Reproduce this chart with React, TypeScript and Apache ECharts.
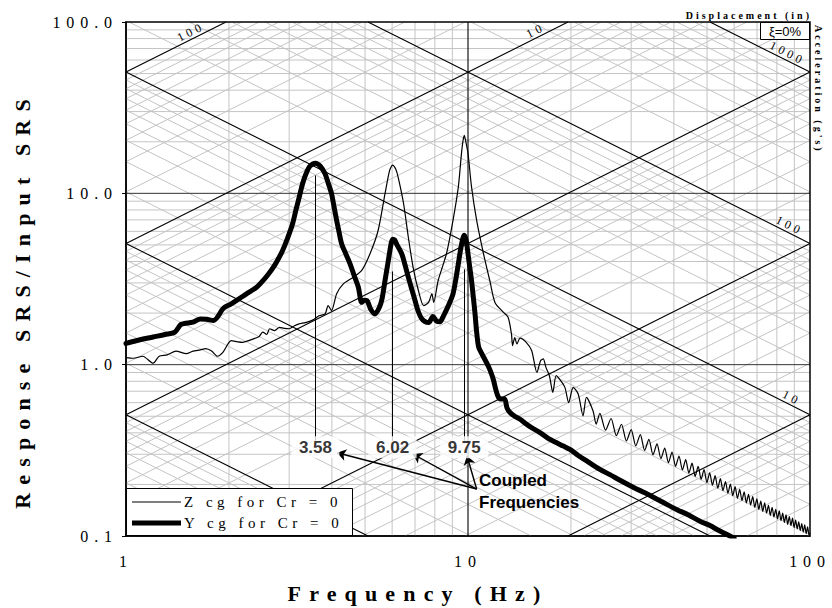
import React, { useEffect, useRef } from "react";
import * as echarts from "echarts";

// Response SRS / input SRS, Z direction at the c.g. (thin trace): [Hz, ratio]
const zCgCurve: [number, number][] = [
  [1.0, 1.10], [1.05, 1.09], [1.12, 1.12], [1.2, 1.02], [1.25, 1.12], [1.32, 1.14],
  [1.4, 1.20], [1.5, 1.16], [1.57, 1.20], [1.65, 1.22], [1.71, 1.24], [1.78, 1.20],
  [1.85, 1.12], [1.92, 1.18], [2.03, 1.38], [2.12, 1.36], [2.19, 1.35], [2.35, 1.41],
  [2.45, 1.46], [2.51, 1.55], [2.58, 1.50], [2.63, 1.62], [2.72, 1.58], [2.81, 1.65],
  [2.9, 1.63], [3.0, 1.62], [3.1, 1.68], [3.21, 1.73], [3.35, 1.76], [3.51, 1.82],
  [3.67, 1.93], [3.82, 1.98], [3.9, 2.21], [3.99, 2.07], [4.13, 2.59], [4.32, 2.96],
  [4.62, 3.24], [4.89, 3.55], [5.17, 4.44], [5.46, 6.07], [5.72, 9.96], [5.9, 13.6],
  [6.02, 14.6], [6.15, 13.8], [6.25, 12.4], [6.48, 8.72], [6.69, 5.56], [6.91, 3.70],
  [7.16, 2.71], [7.42, 2.21], [7.67, 2.31], [7.84, 2.59], [7.94, 2.31], [8.18, 3.10],
  [8.65, 4.44], [9.04, 6.95], [9.37, 10.9], [9.57, 17.1], [9.66, 20.0], [9.75, 21.8],
  [9.84, 20.3], [10.0, 17.1], [10.24, 10.9], [10.6, 6.95], [11.1, 4.44], [11.6, 3.05],
  [12.0, 2.30], [12.7, 2.02], [13.1, 1.89], [13.4, 1.51], [13.5, 1.29], [13.7, 1.44],
  [13.9, 1.32], [14.2, 1.43], [14.8, 1.35], [15.35, 1.21], [15.9, 0.90], [16.3, 1.055],
  [16.6, 1.08], [16.9, 0.964], [17.3, 0.862], [17.7, 0.689], [18.1, 0.862], [18.5, 0.825],
  [19.2, 0.737], [19.7, 0.60], [20.3, 0.737], [21.0, 0.674], [21.7, 0.503], [22.2, 0.644],
  [23.2, 0.538], [23.7, 0.45], [24.3, 0.52],
  [25.25, 0.415], [26.2, 0.485], [27.15, 0.385], [28.1, 0.449], [29.05, 0.359], [30.0, 0.418],
  [30.95, 0.336], [31.9, 0.391], [32.85, 0.316], [33.8, 0.367], [34.75, 0.298], [35.7, 0.345],
  [36.65, 0.283], [37.6, 0.326], [38.55, 0.268], [39.5, 0.309], [40.45, 0.255], [41.4, 0.293],
  [42.35, 0.243], [43.3, 0.279], [44.25, 0.233], [45.2, 0.266], [46.15, 0.223], [47.1, 0.255],
  [48.05, 0.214], [49.0, 0.244], [49.95, 0.205], [50.9, 0.234], [51.85, 0.198], [52.8, 0.225],
  [53.75, 0.190], [54.7, 0.216], [55.65, 0.184], [56.6, 0.208], [57.55, 0.178], [58.5, 0.201],
  [59.45, 0.172], [60.4, 0.194], [61.35, 0.166], [62.3, 0.187], [63.25, 0.161], [64.2, 0.181],
  [65.15, 0.156], [66.1, 0.175], [67.05, 0.152], [68.0, 0.170], [68.95, 0.147], [69.9, 0.165],
  [70.85, 0.143], [71.8, 0.160], [72.75, 0.139], [73.7, 0.156], [74.65, 0.136], [75.6, 0.151],
  [76.55, 0.132], [77.5, 0.147], [78.45, 0.129], [79.4, 0.143], [80.35, 0.126], [81.3, 0.140],
  [82.25, 0.123], [83.2, 0.136], [84.15, 0.120], [85.1, 0.133], [86.05, 0.117], [87.0, 0.130],
  [87.95, 0.115], [88.9, 0.127], [89.85, 0.112], [90.8, 0.124], [91.75, 0.110], [92.7, 0.121],
  [93.65, 0.1075], [94.6, 0.118], [95.55, 0.1053], [96.5, 0.116], [97.45, 0.1032], [98.4, 0.113],
  [99.35, 0.1011], [100.0, 0.104],
];

// Response SRS / input SRS, Y direction at the c.g. (thick trace): [Hz, ratio]
const yCgCurve: [number, number][] = [
  [1.0, 1.33], [1.07, 1.38], [1.2, 1.45], [1.3, 1.50], [1.39, 1.55], [1.45, 1.72],
  [1.57, 1.77], [1.65, 1.85], [1.72, 1.84], [1.8, 1.81], [1.93, 2.14], [2.02, 2.25],
  [2.14, 2.42], [2.25, 2.59], [2.41, 2.83], [2.5, 3.05], [2.6, 3.35], [2.68, 3.63],
  [2.78, 4.10], [2.87, 4.64], [2.97, 5.50], [3.07, 6.65], [3.14, 8.0], [3.21, 9.5],
  [3.28, 11.3], [3.36, 13.0], [3.45, 14.4], [3.58, 15.0], [3.7, 14.4], [3.82, 13.0],
  [3.9, 11.5], [3.99, 9.96], [4.06, 8.3], [4.13, 6.95], [4.2, 5.9], [4.27, 5.08],
  [4.4, 4.40], [4.52, 3.88], [4.65, 3.30], [4.78, 2.83], [4.89, 2.31], [4.97, 2.38],
  [5.06, 2.37], [5.2, 2.10], [5.35, 1.98], [5.5, 2.15], [5.6, 2.40], [5.72, 3.10],
  [5.85, 4.06], [5.95, 5.0], [6.02, 5.4], [6.1, 5.35], [6.2, 5.0], [6.4, 4.44],
  [6.55, 3.80], [6.69, 3.24], [6.85, 2.75], [7.0, 2.37], [7.15, 2.05], [7.33, 1.85],
  [7.5, 1.78], [7.67, 1.76], [7.9, 1.91], [8.08, 1.80], [8.28, 1.78], [8.45, 1.90],
  [8.58, 2.02], [8.8, 2.25], [9.04, 2.59], [9.2, 3.10], [9.37, 3.88], [9.55, 4.90],
  [9.75, 5.7], [9.88, 5.3], [10.0, 4.44], [10.12, 3.70], [10.24, 3.10], [10.36, 2.50],
  [10.48, 2.0], [10.6, 1.55], [10.75, 1.26], [11.0, 1.15], [11.35, 1.02], [11.6, 0.93],
  [11.86, 0.82], [12.05, 0.72], [12.28, 0.644], [12.55, 0.63], [12.8, 0.63], [13.0, 0.56],
  [13.27, 0.526], [13.7, 0.50], [14.2, 0.48], [14.8, 0.45], [15.3, 0.43], [16.28, 0.40],
  [17.2, 0.37], [18.12, 0.351], [19.0, 0.335], [19.86, 0.32], [21.0, 0.295], [22.5, 0.27],
  [24.3, 0.245], [26.0, 0.228], [28.0, 0.21], [30.5, 0.192], [33.0, 0.178], [35.5, 0.165],
  [38.1, 0.153], [41.0, 0.142], [44.0, 0.133], [47.7, 0.122], [51.0, 0.115], [54.0, 0.108],
  [57.2, 0.102], [60.0, 0.097],
];

const coupledFrequencies = [3.58, 6.02, 9.75];
const xTickLabels = ["1", "10", "100"];
const yTickLabels = ["0.1", "1.0", "10.0", "100.0"];

// Grid construction
const minorSteps = [2, 3, 4, 5, 6, 7, 8, 9];
const freqDecades = [1, 10];
const ratioDecades = [0.1, 1, 10];
const displacementDecades = [0.001, 0.01, 0.1, 1, 10, 100]; // in
const accelerationDecades = [0.01, 0.1, 1, 10, 100, 1000]; // g's
const displacementMajors = [0.01, 0.1, 1, 10, 100];
const accelerationMajors = [0.1, 1, 10, 100, 1000];
const displacementLabelled = [100, 10];
const accelerationLabelled = [1000, 100, 10];

// ratio = DISP_K * D * f  and  ratio = ACC_K * A / f
const DISP_K = 0.51;
const ACC_K = 5.1;

const X_MIN = 1, X_MAX = 100, Y_MIN = 0.1, Y_MAX = 100;
const GRID = { left: 126, top: 22, right: 22, bottom: 72 };
const W = 832, H = 608;
const GW = W - GRID.left - GRID.right;
const GH = H - GRID.top - GRID.bottom;
const DIAG_DEG = (Math.atan((GH / 3) / (GW / 2)) * 180) / Math.PI;

const SERIF = "Liberation Serif";
const SERIF_WIDE = "Liberation Serif, Times";
const SANS = "Liberation Sans, Arial";

type Seg = [number, number, number, number];

function risingSeg(c: number): Seg | null {
  const x0 = Math.max(X_MIN, Y_MIN / c);
  const x1 = Math.min(X_MAX, Y_MAX / c);
  return x0 < x1 - 1e-9 ? [x0, c * x0, x1, c * x1] : null;
}
function fallingSeg(c: number): Seg | null {
  const x0 = Math.max(X_MIN, c / Y_MAX);
  const x1 = Math.min(X_MAX, c / Y_MIN);
  return x0 < x1 - 1e-9 ? [x0, c / x0, x1, c / x1] : null;
}

function buildSegments() {
  const minor: Seg[] = [];
  const dark: Seg[] = [];
  const major: Seg[] = [];
  freqDecades.forEach((d) => minorSteps.forEach((m) => minor.push([d * m, Y_MIN, d * m, Y_MAX])));
  ratioDecades.forEach((d) => minorSteps.forEach((m) => minor.push([X_MIN, d * m, X_MAX, d * m])));
  displacementDecades.forEach((d) =>
    minorSteps.forEach((m) => {
      const s = risingSeg(DISP_K * d * m);
      if (s) minor.push(s);
    })
  );
  accelerationDecades.forEach((d) =>
    minorSteps.forEach((m) => {
      const s = fallingSeg(ACC_K * d * m);
      if (s) minor.push(s);
    })
  );
  [1, 10].forEach((y) => dark.push([X_MIN, y, X_MAX, y]));
  major.push([10, Y_MIN, 10, Y_MAX]);
  displacementMajors.forEach((d) => {
    const s = risingSeg(DISP_K * d);
    if (s) major.push(s);
  });
  accelerationMajors.forEach((a) => {
    const s = fallingSeg(ACC_K * a);
    if (s) major.push(s);
  });
  return { minor, dark, major };
}

const segmentRenderer = (stroke: string, lineWidth: number) => (_p: any, api: any) => {
  const a = api.coord([api.value(0), api.value(1)]);
  const b = api.coord([api.value(2), api.value(3)]);
  return {
    type: "line",
    shape: { x1: a[0], y1: a[1], x2: b[0], y2: b[1] },
    style: { stroke, lineWidth, fill: null },
    silent: true,
  };
};

function buildOption() {
  const { minor, dark, major } = buildSegments();

  // where each diagonal's value is printed (frequency along the line)
  const dispLabelFreq: Record<number, number> = { 100: 1.58, 10: 16.1 };
  const accLabelFreq: Record<number, number> = { 1000: 84.2, 100: 85.4, 10: 86.6 };
  const diagLabels = [
    ...displacementLabelled.map((d) => ({
      name: String(d),
      value: [dispLabelFreq[d], DISP_K * d * dispLabelFreq[d]],
      label: { rotate: DIAG_DEG },
    })),
    ...accelerationLabelled.map((a) => ({
      name: String(a),
      value: [accLabelFreq[a], (ACC_K * a) / accLabelFreq[a]],
      label: { rotate: -DIAG_DEG },
    })),
  ];

  const leaderTop = [12.7, 3.5, 3.6];
  const tagRatio = 0.33;
  const arrowTail = [10.6, 0.188];
  const arrowTips: [number, number][] = [[4.14, 0.306], [6.9, 0.301], [9.93, 0.294]];

  const serifText = (size: number, weight = "normal", family = SERIF) => ({
    fontFamily: family,
    fontSize: size,
    fontWeight: weight,
    fill: "#000",
  });

  return {
    animation: false,
    backgroundColor: "#ffffff",
    grid: { left: GRID.left, right: GRID.right, top: GRID.top, bottom: GRID.bottom },
    xAxis: {
      type: "log",
      logBase: 10,
      min: X_MIN,
      max: X_MAX,
      axisLine: { show: true, onZero: false, lineStyle: { color: "#000", width: 1.5 } },
      axisTick: { show: false },
      splitLine: { show: false },
      minorTick: { show: false },
      minorSplitLine: { show: false },
      axisLabel: {
        margin: 17,
        color: "#000",
        fontFamily: SERIF_WIDE,
        fontSize: 16,
        formatter: (v: number) => xTickLabels[Math.round(Math.log10(v))],
      },
    },
    yAxis: {
      type: "log",
      logBase: 10,
      min: Y_MIN,
      max: Y_MAX,
      axisLine: { show: true, onZero: false, lineStyle: { color: "#000", width: 1.5 } },
      axisTick: { show: true, length: 4, lineStyle: { color: "#000", width: 1 } },
      splitLine: { show: false },
      minorTick: { show: false },
      minorSplitLine: { show: false },
      axisLabel: {
        margin: 8,
        color: "#000",
        fontFamily: SERIF_WIDE,
        fontSize: 16,
        formatter: (v: number) => yTickLabels[Math.round(Math.log10(v)) + 1],
      },
    },
    series: [
      {
        type: "custom",
        name: "minorGrid",
        z: 1,
        silent: true,
        data: minor,
        renderItem: segmentRenderer("#c4c4c4", 1),
      },
      {
        type: "custom",
        name: "decadeLines",
        z: 1,
        silent: true,
        data: dark,
        renderItem: segmentRenderer("#333333", 1),
      },
      {
        type: "custom",
        name: "tripartiteLines",
        z: 1,
        silent: true,
        data: major,
        renderItem: segmentRenderer("#000000", 1.1),
      },
      {
        type: "scatter",
        name: "diagonalValues",
        z: 2,
        silent: true,
        symbol: "circle",
        symbolSize: 1,
        itemStyle: { color: "rgba(0,0,0,0)" },
        data: diagLabels,
        label: {
          show: true,
          position: "inside",
          offset: [0, -7],
          formatter: "{b}",
          color: "#000",
          opacity: 1,
          fontFamily: SERIF,
          fontSize: 12,
        },
      },
      {
        type: "line",
        name: "Z cg for Cr = 0",
        z: 3,
        data: zCgCurve,
        showSymbol: false,
        smooth: 0.25,
        lineStyle: { color: "#000", width: 1.2 },
        silent: true,
        markLine: {
          silent: true,
          symbol: "none",
          label: { show: false },
          lineStyle: { color: "#000", width: 1, type: "solid" },
          data: coupledFrequencies.map((f, i) => [
            { coord: [f, leaderTop[i]] },
            { coord: [f, 0.36] },
          ]),
        },
      },
      {
        type: "line",
        name: "Y cg for Cr = 0",
        z: 4,
        data: yCgCurve,
        showSymbol: false,
        smooth: 0.3,
        lineStyle: { color: "#000", width: 5, join: "round", cap: "round" },
        silent: true,
      },
      {
        type: "scatter",
        name: "coupledTags",
        z: 5,
        silent: true,
        symbol: "rect",
        symbolSize: [48, 22],
        itemStyle: { color: "#ffffff" },
        data: coupledFrequencies.map((f) => ({ name: f.toFixed(2), value: [f, tagRatio] })),
        label: {
          show: true,
          position: "inside",
          formatter: "{b}",
          color: "#000",
          fontFamily: SANS,
          fontWeight: "bold",
          fontSize: 17,
        },
        markLine: {
          silent: true,
          symbol: ["none", "arrow"],
          symbolSize: 9,
          label: { show: false },
          lineStyle: { color: "#000", width: 1.4, type: "solid" },
          data: arrowTips.map((t) => [{ coord: arrowTail }, { coord: t }]),
        },
      },
    ],
    graphic: [
      // plot frame
      {
        type: "rect",
        z: 60,
        silent: true,
        shape: { x: GRID.left, y: GRID.top, width: GW, height: GH },
        style: { fill: null, stroke: "#000", lineWidth: 1.5 },
      },
      // legend
      {
        type: "rect",
        z: 55,
        silent: true,
        shape: { x: 126.5, y: 488.5, width: 226, height: 47 },
        style: { fill: "#fff", stroke: "#000", lineWidth: 1 },
      },
      {
        type: "line",
        z: 56,
        silent: true,
        shape: { x1: 132, y1: 502, x2: 181, y2: 502 },
        style: { stroke: "#000", lineWidth: 1.2 },
      },
      {
        type: "line",
        z: 56,
        silent: true,
        shape: { x1: 132, y1: 523, x2: 181, y2: 523 },
        style: { stroke: "#000", lineWidth: 5 },
      },
      {
        type: "text",
        z: 56,
        silent: true,
        x: 184,
        y: 502,
        style: { ...serifText(15), text: "Z cg for Cr = 0", textAlign: "left", textVerticalAlign: "middle" },
      },
      {
        type: "text",
        z: 56,
        silent: true,
        x: 184,
        y: 523,
        style: { ...serifText(15), text: "Y cg for Cr = 0", textAlign: "left", textVerticalAlign: "middle" },
      },
      // damping box
      {
        type: "rect",
        z: 55,
        silent: true,
        shape: { x: 760.5, y: 22.5, width: 49, height: 17 },
        style: { fill: "#fff", stroke: "#000", lineWidth: 1 },
      },
      {
        type: "text",
        z: 56,
        silent: true,
        x: 785,
        y: 31,
        style: {
          text: "ξ=0%",
          fontFamily: SANS,
          fontSize: 13,
          fill: "#000",
          textAlign: "center",
          textVerticalAlign: "middle",
        },
      },
      // scale titles
      {
        type: "text",
        z: 56,
        silent: true,
        x: 812,
        y: 15,
        style: { ...serifText(10, "bold"), text: "Displacement (in)", textAlign: "right", textVerticalAlign: "middle" },
      },
      {
        type: "text",
        z: 56,
        silent: true,
        x: 818,
        y: 25,
        rotation: -Math.PI / 2,
        style: { ...serifText(10, "bold"), text: "Acceleration (g's)", textAlign: "left", textVerticalAlign: "middle" },
      },
      // axis titles
      {
        type: "text",
        z: 56,
        silent: true,
        x: 418,
        y: 593,
        style: {
          ...serifText(22, "bold", SERIF_WIDE),
          text: "Frequency (Hz)",
          textAlign: "center",
          textVerticalAlign: "middle",
        },
      },
      {
        type: "text",
        z: 56,
        silent: true,
        x: 22,
        y: 300,
        rotation: Math.PI / 2,
        style: {
          ...serifText(22, "bold", SERIF_WIDE),
          text: "Response SRS/Input SRS",
          textAlign: "center",
          textVerticalAlign: "middle",
        },
      },
      // annotation text
      {
        type: "text",
        z: 56,
        silent: true,
        x: 479,
        y: 491,
        style: {
          text: "Coupled\nFrequencies",
          fontFamily: SANS,
          fontWeight: "bold",
          fontSize: 17,
          lineHeight: 22,
          fill: "#000",
          textAlign: "left",
          textVerticalAlign: "middle",
        },
      },
    ],
  };
}

const pageCss = `
body { margin: 0; }
text[style*="Liberation Serif"] { letter-spacing: 0.3em; }
text[style*="Times"] { letter-spacing: 0.37em; }
`;

export default function App() {
  const ref = useRef<HTMLDivElement>(null);
  useEffect(() => {
    if (!ref.current) return;
    const chart = echarts.init(ref.current, undefined, { renderer: "svg", width: W, height: H });
    chart.setOption(buildOption() as any);
    return () => chart.dispose();
  }, []);
  return (
    <>
      <style>{pageCss}</style>
      <div ref={ref} style={{ width: W, height: H }} />
    </>
  );
}
